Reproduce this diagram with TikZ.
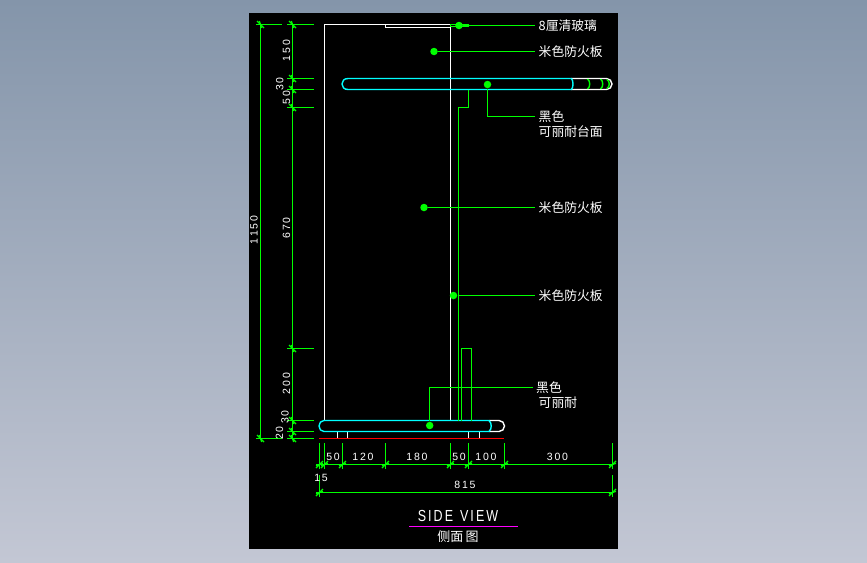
\documentclass[tikz,border=0pt]{standalone}
\usepackage{fontspec}
\usepackage{tikz}
\usetikzlibrary{calc}
\setmainfont{Liberation Sans}
\newfontfamily\cjkfont{Noto Sans CJK SC}
\definecolor{cadgreen}{rgb}{0.0, 1.0, 0.0}
\definecolor{cadcyan}{rgb}{0.0, 1.0, 1.0}
\definecolor{cadmagenta}{rgb}{1.0, 0.0, 1.0}
\definecolor{bgtop}{RGB}{132,149,170}
\definecolor{bgbottom}{RGB}{195,199,212}

\begin{document}
\begin{tikzpicture}[x=1pt,y=-1pt,line width=1.4pt,
	dimline/.style={draw=cadgreen},
	outline/.style={draw=white},
	slab/.style={draw=cadcyan},
	leader/.style={draw=cadgreen},
	leaderdot/.style={circle,fill=cadgreen,minimum size=7.5pt,inner sep=0pt},
	dimtext/.style={text=white,font=\fontsize{10.5}{10.5}\selectfont,inner sep=0pt},
	dimtextv/.style={dimtext,rotate=90},
	note/.style={text=white,font=\cjkfont\fontsize{12.8}{12.8}\selectfont,anchor=west,inner sep=3pt},
	dimtick/.pic={\draw[cadgreen,line width=1.2pt] (-3.5,3.5) -- (3.5,-3.5);
		\draw[cadgreen,line width=1.2pt] (-3.5,1.2) -- (3.5,-1.2);},
	dimtickb/.pic={\draw[cadgreen,line width=1.2pt] (-3.5,-3.5) -- (3.5,3.5);
		\draw[cadgreen,line width=1.2pt] (-1.2,-3.5) -- (1.2,3.5);}]
	\useasboundingbox (0,0) rectangle (867,562);
	\shade[top color=bgtop,bottom color=bgbottom] (0,0) rectangle (867,562);
	\fill[black] (249,13) rectangle (618,549);

	\draw[dimline] (260.5,24.5) -- (260.5,438.5);
	\draw[dimline] (292.5,24.5) -- (292.5,438.5);
	\draw[dimline] (256,24.5) -- (282,24.5);
	\draw[dimline] (256,438.5) -- (282,438.5);
	\foreach \y in {24.5,78.5,89.5,107.5,348.5,420.5,431.5,438.5} {
		\draw[dimline] (287,\y) -- (314,\y);
		\pic at (292.5,\y) {dimtickb};
	}
	\pic at (260.5,24.5) {dimtickb};
	\pic at (260.5,438.5) {dimtickb};

	\foreach \x in {319.5,324.5,342.5,385.5,450.5,468.5,504.5,612.5} {
		\draw[dimline] (\x,443) -- (\x,469);
		\pic at (\x,464.5) {dimtick};
	}
	\draw[dimline] (316,464.5) -- (612.5,464.5);
	\draw[dimline] (316,492.5) -- (612.5,492.5);
	\draw[dimline] (319.5,475) -- (319.5,497);
	\draw[dimline] (612.5,475) -- (612.5,497);
	\pic at (319.5,492.5) {dimtick};
	\pic at (612.5,492.5) {dimtick};

	\node[dimtextv] (dimA) at (286.5,50.5) {1\,5\,0};
	\node[dimtextv] (dimB) at (279.7,84) {3\,0};
	\node[dimtextv] (dimC) at (286.5,97.5) {5\,0};
	\node[dimtextv] (dimD) at (286.5,228) {6\,7\,0};
	\node[dimtextv] (dimE) at (286.5,383.5) {2\,0\,0};
	\node[dimtextv] (dimF) at (285,417) {3\,0};
	\node[dimtextv] (dimG) at (279.5,433) {2\,0};
	\node[dimtextv] (dimH) at (254,230) {1\,1\,5\,0};
	\node[dimtext] (dimI) at (333,456.5) {5\,0};
	\node[dimtext] (dimJ) at (363,456.5) {1\,2\,0};
	\node[dimtext] (dimK) at (417,456.5) {1\,8\,0};
	\node[dimtext] (dimL) at (459,456.5) {5\,0};
	\node[dimtext] (dimM) at (486,456.5) {1\,0\,0};
	\node[dimtext] (dimN) at (557.5,456.5) {3\,0\,0};
	\node[dimtext] (dimO) at (321,477.5) {1\,5};
	\node[dimtext] (dimP) at (465,484.5) {8\,1\,5};

	\draw[outline] (324.5,420.5) -- (324.5,24.5) -- (450.5,24.5) -- (450.5,420.5);
	\draw[outline] (385.5,24.5) -- (385.5,27.5) -- (450.5,27.5);
	\draw[outline] (571,78.5) -- (606.5,78.5) arc (90:-90:5.5 and -5.5) -- (571,89.5);
	\draw[outline] (489,420.5) -- (499,420.5) arc (90:-90:5.5 and -5.5) -- (489,431.5);
	\foreach \x in {337.5,347.5,468.5,479.5} {
		\draw[outline] (\x,431.5) -- (\x,438.5);
	}
	\draw[slab] (571.5,78.5) -- (348,78.5) .. controls (344,78.5) and (342,81) .. (342,84) .. controls (342,87) and (344,89.5) .. (348,89.5) -- (571.5,89.5);
	\draw[slab] (571.5,78.5) .. controls (573.5,81) and (573.5,87) .. (571.5,89.5);
	\draw[slab] (489,420.5) -- (324,420.5) .. controls (321,420.5) and (319,423) .. (319,426) .. controls (319,429) and (321,431.5) .. (324,431.5) -- (489,431.5);
	\draw[slab] (489,420.5) .. controls (492,423) and (492,429) .. (489,431.5);
	\draw[cadgreen] (587.5,79) .. controls (590.5,81) and (590.5,87) .. (587.5,89);
	\draw[cadgreen] (600.5,79) .. controls (603.5,81) and (603.5,87) .. (600.5,89);
	\draw[cadgreen] (607,79.5) .. controls (610,81) and (610,87) .. (607,88.5);
	\draw[red] (319,438.5) -- (503.7,438.5);

	\draw[cadgreen] (468.5,89.5) -- (468.5,107.5) -- (458.5,107.5) -- (458.5,420.5);
	\draw[cadgreen] (461.5,420.5) -- (461.5,348.5) -- (471.5,348.5) -- (471.5,420.5);
	\draw[cadgreen] (450.5,24.5) rectangle (468,26.5);

	\node[leaderdot] (dotA) at (459,25.5) {};
	\node[leaderdot] (dotB) at (434,51.5) {};
	\node[leaderdot] (dotC) at (487.5,84.5) {};
	\node[leaderdot] (dotD) at (424,207.5) {};
	\node[leaderdot] (dotE) at (453.5,295.5) {};
	\node[leaderdot] (dotF) at (429.7,425.5) {};

	\node[note] (glass) at (535,25.5) {8厘清玻璃};
	\node[note] (boardA) at (535,51.5) {米色防火板};
	\node[note] (blackA) at (535,116.5) {黑色};
	\node[note] (topA) at (535,131.5) {可丽耐台面};
	\node[note] (boardB) at (535,207.5) {米色防火板};
	\node[note] (boardC) at (535,295.5) {米色防火板};
	\node[note] (blackB) at (532.5,387.5) {黑色};
	\node[note] (topB) at (535,402.5) {可丽耐};

	\draw[leader] (dotA) -- (glass.west);
	\draw[leader] (dotB) -- (boardA.west);
	\draw[leader] (dotC) |- (blackA.west);
	\draw[leader] (dotD) -- (boardB.west);
	\draw[leader] (dotE) -- (boardC.west);
	\draw[leader] (dotF) |- (blackB.west);

	\node[text=white,font=\fontsize{16}{16}\selectfont,inner sep=0pt,xscale=0.78,transform shape] (sideview) at (458,516) {S\,I\,D\,E\ \ V\,I\,E\,W};
	\draw[cadmagenta] (409,526.5) -- (517.5,526.5);
	\node[text=white,font=\cjkfont\fontsize{13}{13}\selectfont,inner sep=0pt] (sidecn) at (458,536.5) {侧面\,图};
\end{tikzpicture}
\end{document}
